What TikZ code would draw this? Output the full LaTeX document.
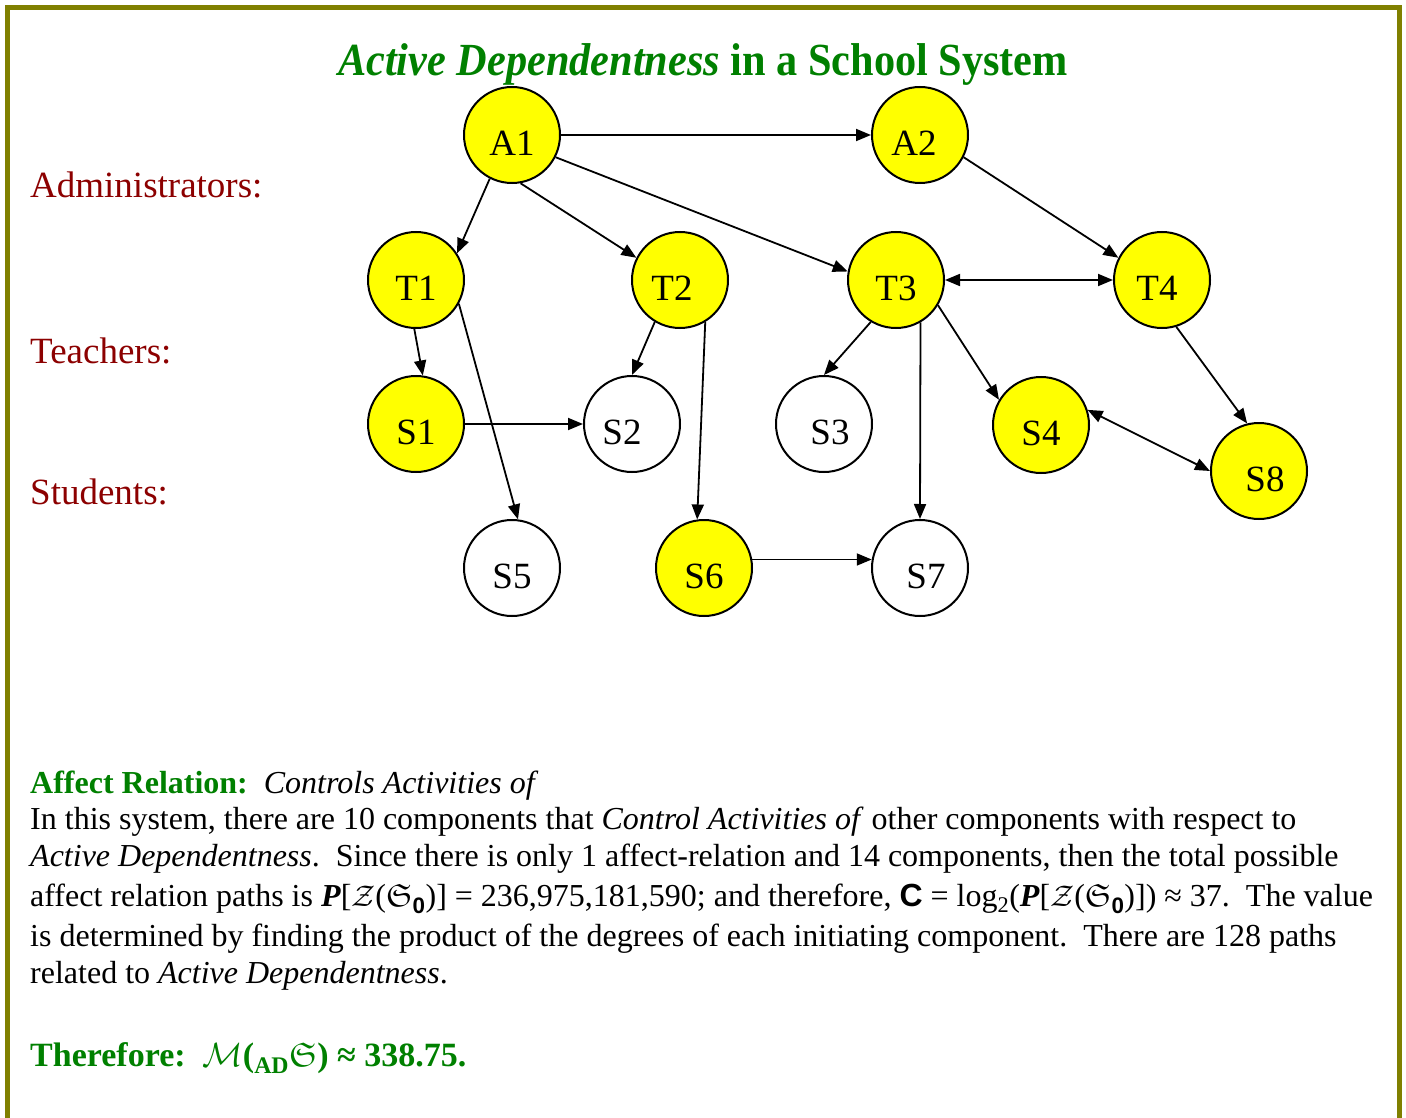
\documentclass[tikz,border=0pt]{standalone}
\usepackage{fontspec}
\usepackage{amssymb}
\setmainfont{Liberation Serif}
\newfontfamily\headfont[FakeStretch=0.92]{Liberation Serif}
\newfontfamily\sansfont{Liberation Sans}
\usetikzlibrary{arrows.meta}

\definecolor{framecol}{RGB}{128,128,0}
\definecolor{headgreen}{RGB}{0,128,0}
\definecolor{rolered}{RGB}{140,0,0}
\definecolor{nodeyellow}{RGB}{255,255,0}

% shift a node's text sideways by half the given kern
\newcommand{\nudged}[2]{\kern#1\relax#2}
% symbols used in the formulas
\newcommand{\Zs}{\scalebox{1.2}{\ensuremath{\mathcal{Z}}}}
\newcommand{\Sfr}{\ensuremath{\mathfrak{S}}}
\newcommand{\zeroidx}{\textsubscript{\sansfont\bfseries 0}}
\newcommand{\bigP}{\textbf{\textit{P}}}

\tikzset{
  comp/.style={circle, draw=black, line width=2pt, minimum size=96pt, inner sep=0pt,
    font=\fontsize{37}{40}\selectfont, text height=41pt, text depth=0pt},
  active/.style={comp, fill=nodeyellow},
  idle/.style={comp, fill=white},
  link/.style={line width=1.8pt, -{Triangle[length=15pt,width=12pt]}},
  dlink/.style={line width=1.8pt, {Triangle[length=15pt,width=12pt]}-{Triangle[length=15pt,width=12pt]}},
  role/.style={anchor=base west, inner sep=0pt, text=rolered, font=\fontsize{37}{42}\selectfont},
  body/.style={anchor=base west, inner sep=0pt, font=\fontsize{32}{37}\selectfont},
}

\begin{document}
\begin{tikzpicture}[x=1pt, y=-1pt]
  \useasboundingbox (0,0) rectangle (1406,1118);
  \fill[white] (0,0) rectangle (1406,1118);

  % frame open at the bottom
  \draw[framecol, line width=5pt] (7.5,1118) -- (7.5,7.5) -- (1399.5,7.5) -- (1399.5,1118);

  % heading
  \node[anchor=base, inner sep=0pt, text=headgreen, font=\fontsize{46}{50}\headfont\bfseries]
    (title) at (703,76) {\textit{Active Dependentness} in a School System};

  % role labels
  \node[role] (admins)   at (30,198) {Administrators:};
  \node[role] (teachers) at (30,363) {Teachers:};
  \node[role] (students) at (30,504) {Students:};

  % components
  \node[active] (A1) at (512,135)  {A1};
  \node[active] (A2) at (920,135)  {\nudged{-12pt}{A2}};
  \node[active] (T1) at (416,280)  {T1};
  \node[active] (T2) at (680,280)  {\nudged{-16pt}{T2}};
  \node[active] (T3) at (896,280)  {T3};
  \node[active] (T4) at (1162,280) {\nudged{-10pt}{T4}};
  \node[active] (S1) at (416,424)  {S1};
  \node[idle]   (S2) at (632,424)  {\nudged{-20pt}{S2}};
  \node[idle]   (S3) at (824,424)  {\nudged{12pt}{S3}};
  \node[active] (S4) at (1041,425) {S4};
  \node[active] (S8) at (1259,471) {\nudged{12pt}{S8}};
  \node[idle]   (S5) at (512,568)  {S5};
  \node[active] (S6) at (704,568)  {S6};
  \node[idle]   (S7) at (920,568)  {\nudged{12pt}{S7}};

  % control relations
  \draw[link] (A1) -- (A2);
  \draw[link] (A1.243) -- (T1.33);
  \draw[link] (A1.280) -- (T2.153);
  \draw[link] (A1.333) -- (T3.170);
  \draw[link] (A2.333) -- (T4.153);
  \draw[dlink] (T3) -- (T4);
  \draw[link] (T1.268) -- (S1.82);
  \draw[link] (T1.331) -- (S5.83);
  \draw[link] (T2.239) -- (S2.90);
  \draw[link] (T2.301) -- (S6.98);
  \draw[link] (S1) -- (S2);
  \draw[link] (T3.239) -- (S3.90);
  \draw[link] (T3.300) -- (S7.90);
  \draw[link] (T3.329) -- (S4.149);
  \draw[link] (T4.287) -- (S8.104);
  \draw[dlink] (S4.18) -- (S8.180);
  \draw[link] (S6.10) -- (S7.170);

  % explanation
  \node[body] (rel) at (30,793)
    {\textcolor{headgreen}{\bfseries Affect Relation:}\ \ \textit{Controls Activities of}};
  \node[body] (line1) at (30,829)
    {In this system, there are 10 components that \textit{Control Activities of} other components with respect to};
  \node[body] (line2) at (30,866)
    {\textit{Active Dependentness}.\ \ Since there is only 1 affect-relation and 14 components, then the total possible};
  \node[body] (line3) at (30,906)
    {affect relation paths is \bigP[\Zs(\Sfr\zeroidx)] = 236,975,181,590; and therefore, {\sansfont\bfseries C} = log\textsubscript{2}(\bigP[\Zs(\Sfr\zeroidx)]) ≈ 37.\ \ The value};
  \node[body] (line4) at (30,946)
    {is determined by finding the product of the degrees of each initiating component.\ \ There are 128 paths};
  \node[body] (line5) at (30,983)
    {related to \textit{Active Dependentness}.};

  \node[anchor=base west, inner sep=0pt, text=headgreen, font=\fontsize{34}{40}\selectfont\bfseries]
    (result) at (30,1066)
    {Therefore:\ \ \scalebox{1.35}{\ensuremath{\mathcal{M}}}(\textsubscript{AD}\Sfr) ≈ 338.75.};
\end{tikzpicture}
\end{document}
